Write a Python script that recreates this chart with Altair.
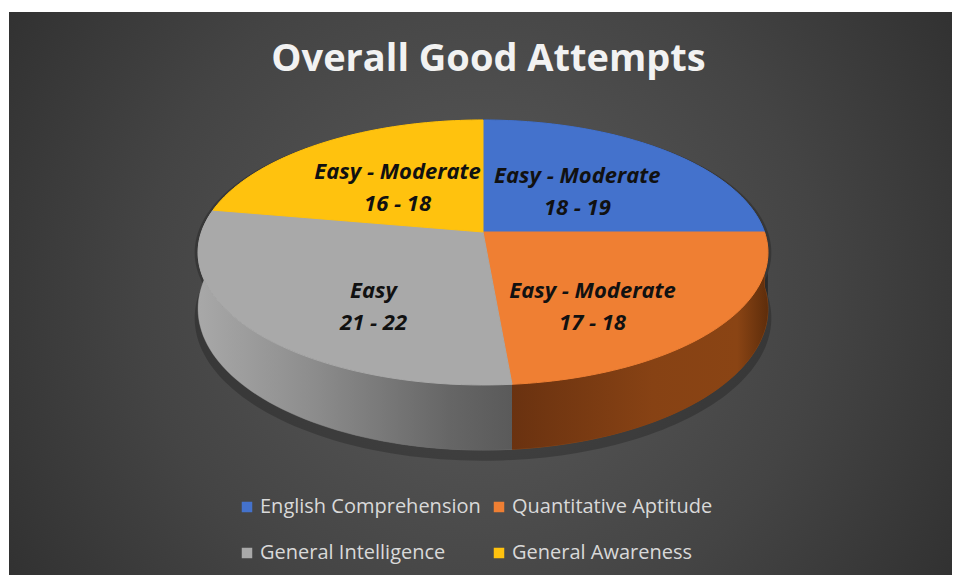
import altair as alt
import pandas as pd

# ---------------- data ----------------
categories = ["English Comprehension", "Quantitative Aptitude", "General Intelligence", "General Awareness"]
values = [18, 17, 21, 16]
levels = ["Easy - Moderate", "Easy - Moderate", "Easy", "Easy - Moderate"]
ranges = ["18 - 19", "17 - 18", "21 - 22", "16 - 18"]

top_colors = ["#4472CC", "#EF7F33", "#A9A9A9", "#FFC20E"]
wall_colors = ["#2E4F8E", "#8A4514", "#6E6E6E", "#A67E08"]

df = pd.DataFrame({"category": categories, "value": values, "level": levels,
                   "range": ranges, "order": list(range(len(categories)))})

# ---------------- layout / projection constants ----------------
W, H = 943, 563            # plot area
CX, CY = 474, 220          # pixel position of pie centre
A, B = 281.5, 129.3        # pixels per unit (horizontal / vertical)
K = 0.1547                 # perspective factor
D = 0.4254                 # wall depth (vertical units)
N = 60                     # segments per slice

xscale = alt.Scale(domain=[-CX / A, (W - CX) / A], nice=False, zero=False)
yscale = alt.Scale(domain=[-(H - CY) / B, CY / B], nice=False, zero=False)

base = alt.Chart(df).transform_joinaggregate(total="sum(value)").transform_window(
    cum="sum(value)", sort=[alt.SortField("order")]
).transform_calculate(
    t1="2*PI*datum.cum/datum.total",
    t0="2*PI*(datum.cum - datum.value)/datum.total",
)

enc_xy = dict(x=alt.X("px:Q", scale=xscale, axis=None),
              y=alt.Y("py:Q", scale=yscale, axis=None),
              order=alt.Order("idx:Q"))

# top face polygons
top = base.transform_calculate(idx=f"sequence(0, {N + 2})").transform_flatten(["idx"]).transform_calculate(
    th=f"datum.t0 + (datum.t1 - datum.t0) * max(0, datum.idx - 1) / {N}",
    r="datum.idx == 0 ? 0 : 1",
    w=f"1 + {K} * datum.r * cos(datum.th)",
    px="datum.r * sin(datum.th) / datum.w",
    py="datum.r * cos(datum.th) / datum.w",
).mark_line(interpolate="linear-closed", strokeWidth=1).encode(
    fill=alt.Fill("category:N", sort=categories,
                  scale=alt.Scale(domain=categories, range=top_colors),
                  legend=alt.Legend(title=None, orient="none", legendX=228, legendY=485,
                                    columns=2, direction="horizontal", symbolType="square",
                                    symbolSize=110, symbolStrokeWidth=0, labelFont="Open Sans",
                                    labelFontSize=20, labelColor="#D9D9D9", labelOffset=3,
                                    columnPadding=8, rowPadding=26, padding=0, labelLimit=400)),
    stroke=alt.Stroke("category:N", sort=categories,
                      scale=alt.Scale(domain=categories, range=top_colors), legend=None),
    **enc_xy,
)


def wall_points(chart, depth, spread=1.0):
    return chart.transform_calculate(idx=f"sequence(0, {2 * N + 2})").transform_flatten(["idx"]).transform_calculate(
        j=f"datum.idx <= {N} ? datum.idx : {2 * N + 1} - datum.idx",
        th=f"datum.t0 + (datum.t1 - datum.t0) * datum.j / {N}",
        w=f"1 + {K} * cos(datum.th)",
        px=f"{spread} * sin(datum.th) / datum.w",
        py=f"(cos(datum.th) - (datum.idx > {N} ? {depth} : 0)) / datum.w",
    )


shadow = wall_points(base, D + 0.07, 1.012).mark_line(
    interpolate="linear-closed", fill="#000000", fillOpacity=0.22, strokeWidth=0
).encode(detail="category:N", **enc_xy)

walls = wall_points(base, D).mark_line(interpolate="linear-closed", strokeWidth=0.8).encode(
    fill=alt.Fill("category:N", scale=alt.Scale(domain=categories, range=wall_colors), legend=None),
    stroke=alt.Stroke("category:N", scale=alt.Scale(domain=categories, range=wall_colors), legend=None),
    **enc_xy,
)

gray_grad = {"gradient": "linear", "x1": 0, "y1": 0, "x2": 1, "y2": 0,
             "stops": [{"offset": 0, "color": "#A8A8A8"}, {"offset": 0.35, "color": "#8E8E8E"},
                       {"offset": 0.8, "color": "#666666"}, {"offset": 1, "color": "#5A5A5A"}]}
orange_grad = {"gradient": "linear", "x1": 0, "y1": 0, "x2": 1, "y2": 0,
               "stops": [{"offset": 0, "color": "#6A3210"}, {"offset": 0.55, "color": "#874214"},
                         {"offset": 0.88, "color": "#8A4414"}, {"offset": 1, "color": "#5E2D0B"}]}

wall_gray = wall_points(base.transform_filter(alt.datum.category == categories[2]), D).mark_line(
    interpolate="linear-closed", fill=gray_grad, strokeWidth=0).encode(**enc_xy)
wall_orange = wall_points(base.transform_filter(alt.datum.category == categories[1]), D).mark_line(
    interpolate="linear-closed", fill=orange_grad, strokeWidth=0).encode(**enc_xy)

# labels
lab = base.transform_calculate(
    tm="(datum.t0 + datum.t1) / 2",
    lw=f"1 + {K} * 0.5 * cos(datum.tm)",
    lx="0.5 * sin(datum.tm) / datum.lw",
    ly="0.5 * cos(datum.tm) / datum.lw - 0.3 * max(0, -cos(datum.tm))",
)
txt_style = dict(font="Open Sans", fontSize=22, fontWeight="bold", fontStyle="italic", color="#111111")
lab_xy = dict(x=alt.X("lx:Q", scale=xscale, axis=None), y=alt.Y("ly:Q", scale=yscale, axis=None))
text1 = lab.mark_text(dy=-13, **txt_style).encode(text="level:N", **lab_xy)
text2 = lab.mark_text(dy=19, **txt_style).encode(text="range:N", **lab_xy)

# background
bg_grad = {"gradient": "radial", "x1": 0.5, "y1": 0.5, "r1": 0, "x2": 0.5, "y2": 0.5, "r2": 0.72,
           "stops": [{"offset": 0, "color": "#5B5B5B"}, {"offset": 0.5, "color": "#444444"},
                     {"offset": 1, "color": "#262626"}]}
bg = alt.Chart(pd.DataFrame({"a": [0]})).mark_rect(fill=bg_grad).encode(
    x=alt.value(0), x2=alt.value(W), y=alt.value(0), y2=alt.value(H))

chart = alt.layer(bg, shadow, walls, wall_gray, wall_orange, top, text1, text2).resolve_scale(
    fill="independent", stroke="independent"
).properties(
    width=W, height=H,
    autosize=alt.AutoSizeParams(type="none"),
    padding={"left": 1, "top": 4, "right": 0, "bottom": 0},
    background="white",
    title=alt.TitleParams("Overall Good Attempts", font="Open Sans", fontSize=38, fontWeight="bold",
                          color="#F2F2F2", anchor="middle", frame="group", offset=-97,
                          baseline="alphabetic", dx=8),
).configure_view(strokeWidth=0)

chart.save("out.html", embed_options={"renderer": "svg", "actions": False})
